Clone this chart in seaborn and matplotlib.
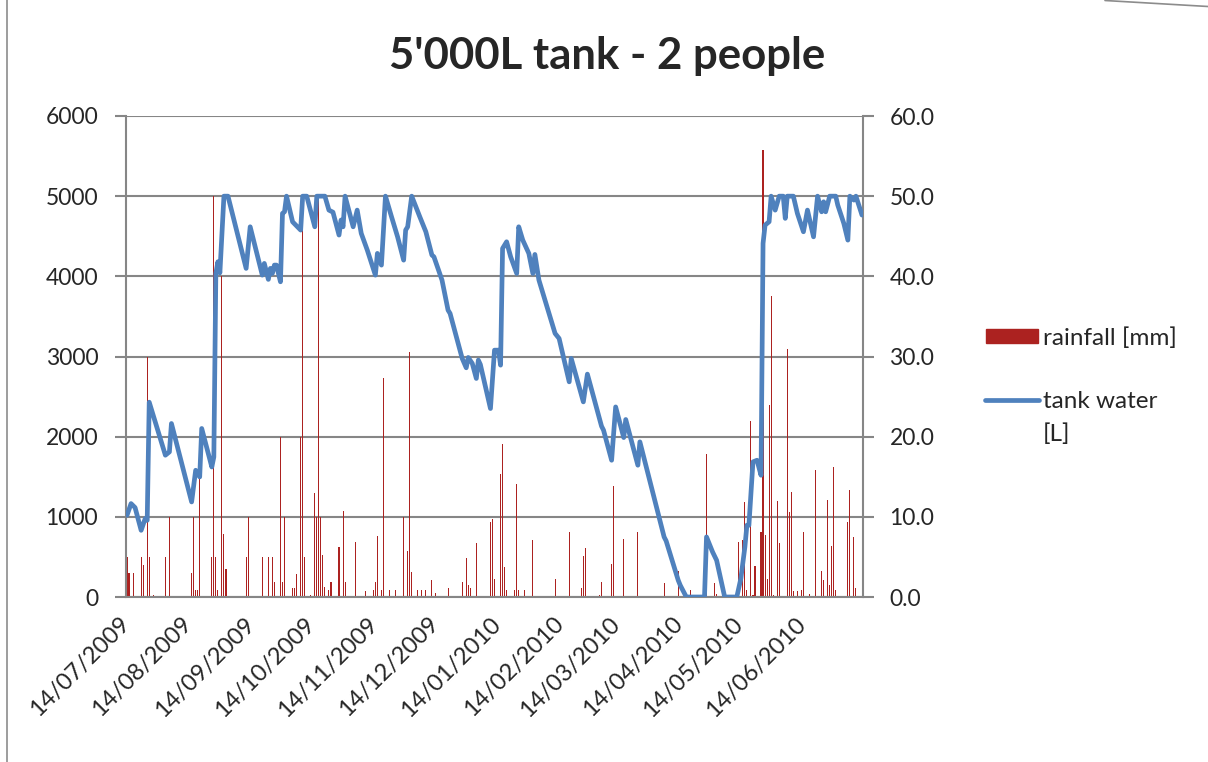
import matplotlib
matplotlib.use("Agg")
import matplotlib.pyplot as plt
from matplotlib.lines import Line2D
from matplotlib.patches import Rectangle
from matplotlib.transforms import ScaledTranslation
import seaborn as sns
import pandas as pd

# ---- data -------------------------------------------------------------
start_date = "14/07/2009"

# daily rainfall [mm], as day offsets from the start date
rain_day = [0, 1, 3, 7, 8, 10, 11, 13, 19, 21, 32, 33, 34, 35, 36, 42, 43, 44, 45,
            47, 48, 49, 59, 60, 67, 70, 72, 73, 76, 77, 78, 82, 83, 84, 86, 87, 88,
            91, 93, 94, 95, 96, 97, 98, 100, 101, 105, 107, 108, 113, 118, 122, 123,
            124, 126, 127, 130, 133, 137, 139, 140, 141, 144, 146, 148, 151, 153,
            159, 166, 168, 169, 170, 173, 180, 181, 182, 185, 186, 187, 188, 192,
            193, 194, 197, 201, 212, 219, 225, 226, 227, 234, 235, 240, 241, 246,
            253, 266, 273, 279, 287, 291, 292, 303, 305, 306, 307, 309, 310, 311,
            314, 315, 316, 317, 318, 319, 320, 322, 323, 327, 328, 329, 330, 332,
            334, 335, 338, 341, 344, 345, 347, 348, 349, 350, 351, 357, 358, 360, 361]
rain_mm = [5, 3, 3, 5, 4, 30, 5, 0.3, 5, 10, 3, 10, 0.9, 0.9, 15, 5, 50, 5, 0.9,
           40, 7.9, 3.5, 5, 10, 5, 5, 5, 1.9, 20, 1.9, 10, 1.1, 1.1, 2.9, 20, 50, 5,
           0.3, 13, 10, 50, 10, 5.3, 1.2, 0.9, 1.9, 6.2, 10.7, 1.9, 6.9, 0.8, 0.9, 1.9,
           7.6, 0.9, 27.3, 0.9, 0.9, 10, 5.7, 30.5, 3.1, 0.9, 0.9, 0.9, 2.1, 0.5,
           1.1, 1.9, 4.9, 1.5, 1.1, 6.7, 9.4, 9.7, 2.3, 15.3, 19.1, 3.7, 0.9, 0.9,
           14.1, 0.9, 0.9, 7.1, 2.3, 8.1, 1.1, 5.1, 6.1, 0.3, 1.9, 4.1, 13.9, 7.2,
           8.1, 1.7, 3.3, 0.9, 17.9, 1.7, 0.4, 6.8, 7.1, 11.9, 0.9, 21.9, 0.3, 3.9,
           8.1, 55.8, 7.7, 2.3, 23.9, 37.5, 0.3, 12.0, 6.7, 30.9, 10.6, 13.1, 0.8, 0.8,
           0.9, 8.1, 0.4, 15.9, 3.3, 2.1, 12.1, 1.5, 6.3, 16.2, 0.9, 9.3, 13.3, 7.5, 1.1]

# water held in the tank [L], as day offsets from the start date
tank_day = [0, 2, 4, 7, 9, 10, 11, 19, 21, 22, 32, 34, 36, 37, 42, 43, 44, 45, 46,
            48, 50, 59, 61, 67, 68, 70, 71, 72, 73, 74, 76, 77, 78, 79, 82, 86, 87,
            89, 93, 94, 98, 100, 102, 105, 106, 107, 108, 112, 114, 116, 119, 123,
            124, 126, 128, 131, 134, 137, 138, 139, 141, 145, 148, 151, 152, 156,
            159, 160, 166, 168, 169, 171, 173, 174, 175, 180, 182, 184, 185, 186,
            188, 190, 193, 194, 196, 199, 201, 202, 204, 212, 214, 219, 220, 226,
            228, 235, 236, 240, 242, 246, 247, 253, 254, 266, 267, 273, 274, 277,
            286, 287, 290, 292, 296, 302, 304, 306, 307, 308, 310, 312, 314, 315,
            316, 318, 319, 321, 323, 325, 326, 327, 330, 332, 335, 337, 340, 342,
            344, 345, 346, 348, 351, 352, 355, 357, 358, 360, 361, 364]
tank_litres = [1020, 1165, 1115, 832, 978, 957, 2430, 1769, 1810, 2164, 1186, 1581,
               1498, 2102, 1622, 1747, 4036, 4182, 4044, 5000, 5000, 4099, 4618,
               4015, 4161, 3962, 4099, 4036, 4140, 4140, 3932, 4785, 4805, 5000,
               4680, 4577, 5000, 5000, 4618, 5000, 5000, 4826, 4800, 4515, 4702,
               4618, 5000, 4618, 4826, 4536, 4327, 4015, 4286, 4140, 5000, 4743,
               4493, 4202, 4577, 4618, 5000, 4743, 4556, 4265, 4244, 3953, 3578,
               3537, 2976, 2859, 2988, 2913, 2726, 2955, 2900, 2351, 3079, 3079,
               2892, 4348, 4431, 4244, 4036, 4618, 4452, 4286, 4036, 4273, 3953,
               3288, 3225, 2684, 2976, 2434, 2780, 2131, 2081, 1706, 2371, 1989,
               2214, 1644, 1935, 749, 700, 208, 146, 0, 0, 749, 562, 458, 0, 0, 229,
               624, 895, 895, 1685, 1706, 1519, 4411, 4639, 4681, 5000, 4826, 5000,
               5000, 4723, 5000, 5000, 4785, 4556, 4826, 4493, 5000, 4805, 4930,
               4805, 5000, 5000, 4889, 4660, 4452, 5000, 4951, 5000, 4764]

date_labels = ["14/07/2009", "14/08/2009", "14/09/2009", "14/10/2009",
               "14/11/2009", "14/12/2009", "14/01/2010", "14/02/2010",
               "14/03/2010", "14/04/2010", "14/05/2010", "14/06/2010"]
axis_end = "14/07/2010"

tank_ticks = [0, 1000, 2000, 3000, 4000, 5000, 6000]
rain_ticks = [0, 10, 20, 30, 40, 50, 60]

title = "5'000L tank - 2 people"
rain_label = "rainfall [mm]"
tank_label = ["tank water", "[L]"]

# ---- style ------------------------------------------------------------
RAIN_COLOR = "#AC2220"
TANK_COLOR = "#4F81BD"
AXIS_GREY = "#868686"
W, H = 1208, 762

sns.set_style("white")
plt.rcParams["font.family"] = ["Lato", "DejaVu Sans"]


def fx(px):
    return px / W


def fy(py):
    return 1 - py / H


fig = plt.figure(figsize=(W / 100, H / 100), dpi=100)
ax_rain = fig.add_axes([fx(126), fy(597), fx(863) - fx(126), fy(116) - fy(597)])
ax_tank = ax_rain.twinx()

# rainfall bars (one per day) on the right-hand scale
sns.histplot(x=rain_day, weights=rain_mm, discrete=True, shrink=0.55,
             color=RAIN_COLOR, alpha=1, linewidth=0, edgecolor="none",
             ax=ax_rain)

# tank level on the left-hand scale
sns.lineplot(x=tank_day, y=tank_litres, color=TANK_COLOR, linewidth=3.4,
             estimator=None, sort=False, ax=ax_tank)
for ln in ax_tank.get_lines():
    ln.set_solid_joinstyle("round")
    ln.set_solid_capstyle("round")

# x axis: one tick on the 14th of every month
t0 = pd.to_datetime(start_date, dayfirst=True)
tick_pos = [(pd.to_datetime(d, dayfirst=True) - t0).days - 0.5
            for d in date_labels + [axis_end]]
ax_rain.set_xlim(-0.5, tick_pos[-1])
ax_rain.set_xticks(tick_pos)
ax_rain.set_xticklabels(date_labels + [""], rotation=45, ha="right",
                        va="center", rotation_mode="anchor")
shift = ScaledTranslation(8 / 100, 0, fig.dpi_scale_trans)
for lab in ax_rain.get_xticklabels():
    lab.set_transform(lab.get_transform() + shift)

# y axes
ax_rain.set_ylim(0, 60)
ax_rain.set_yticks(rain_ticks)
ax_rain.set_yticklabels([f"{v:.1f}" for v in rain_ticks])
ax_rain.yaxis.tick_right()
ax_tank.set_ylim(0, 6000)
ax_tank.set_yticks(tank_ticks)
ax_tank.set_yticklabels([str(v) for v in tank_ticks])
ax_tank.yaxis.tick_left()

for a in (ax_rain, ax_tank):
    a.set_xlabel("")
    a.set_ylabel("")

ax_rain.yaxis.grid(True, color=AXIS_GREY, linewidth=1.5)
ax_rain.xaxis.grid(False)
ax_rain.set_axisbelow(True)

for side, sp in ax_rain.spines.items():
    sp.set_color(AXIS_GREY)
    sp.set_linewidth(1.5)
    sp.set_visible(side != "top")
for sp in ax_tank.spines.values():
    sp.set_visible(False)

ax_rain.tick_params(axis="x", direction="out", length=7, width=1.5,
                    color=AXIS_GREY, labelsize=17, pad=10)
ax_rain.tick_params(axis="y", direction="out", length=8, width=1.5,
                    color=AXIS_GREY, labelsize=16.5, pad=11, right=True, left=False)
ax_tank.tick_params(axis="y", direction="out", length=8, width=1.5,
                    color=AXIS_GREY, labelsize=16.5, pad=12, left=True, right=False)

# title
fig.text(0.503, fy(56), title, ha="center", va="center",
         fontsize=31.5, fontweight="bold")

# legend
fig.add_artist(Rectangle((fx(986), fy(343)), fx(1038) - fx(986), fy(329) - fy(343),
                         transform=fig.transFigure, color=RAIN_COLOR))
fig.text(fx(1043), fy(345), rain_label, va="baseline", fontsize=17.5)
fig.add_artist(Line2D([fx(985), fx(1039)], [fy(400), fy(400)],
                      transform=fig.transFigure, color=TANK_COLOR,
                      linewidth=3.4, solid_capstyle="round"))
fig.text(fx(1043), fy(408), tank_label[0], va="baseline", fontsize=17.5)
fig.text(fx(1043), fy(441), tank_label[1], va="baseline", fontsize=17.5)

# chart frame edges
fig.add_artist(Line2D([fx(7.5), fx(7.5)], [0, 1], transform=fig.transFigure,
                      color="#8C8C8C", linewidth=1.2))
fig.add_artist(Line2D([fx(1105), fx(1208)], [fy(0.5), fy(6.5)],
                      transform=fig.transFigure, color="#8C8C8C", linewidth=1.2))

fig.savefig("out.png", dpi=100)
